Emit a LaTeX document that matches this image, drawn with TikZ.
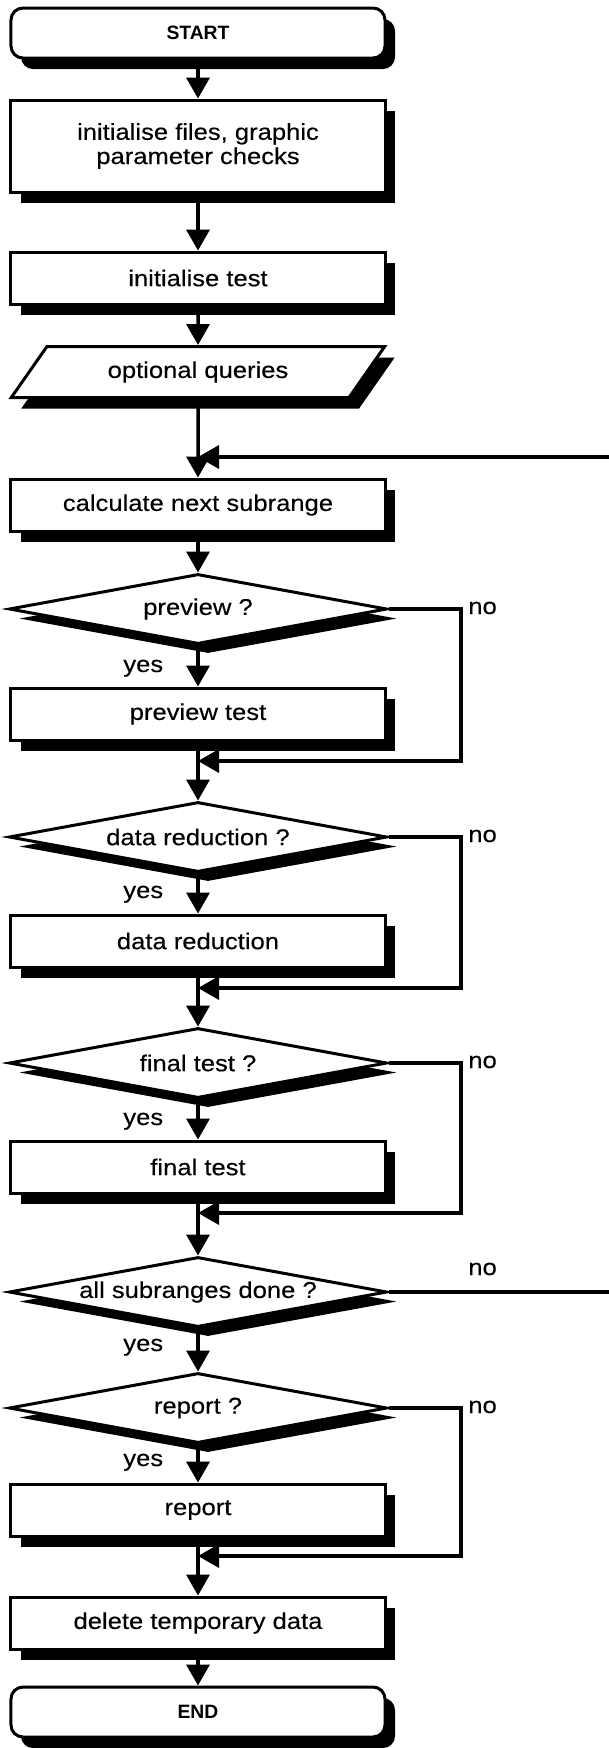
\documentclass[tikz,border=0pt]{standalone}
\usepackage{fontspec}
\setmainfont{Liberation Sans}[FakeStretch=1.12, FakeBold=0.3]
\newfontfamily\termfont{Liberation Sans}
\usetikzlibrary{shapes.geometric,shadows,arrows.meta}

\begin{document}
\begin{tikzpicture}[
    x=0.2mm, y=-0.2mm,
    blackshadow/.style={drop shadow={shadow xshift=2mm, shadow yshift=-2.2mm, fill=black, opacity=1}},
    procbox/.style={draw, line width=0.6mm, fill=white, blackshadow, minimum width=74.8mm, minimum height=10.4mm, inner sep=0pt, align=center, font=\fontsize{13}{13.8}\selectfont},
    termbox/.style={procbox, rounded corners=2.4mm, minimum height=10mm, font=\termfont\bfseries\fontsize{11}{13}\selectfont},
    iobox/.style={procbox, trapezium, trapezium left angle=45, trapezium right angle=135, trapezium stretches=true, minimum width=74.8mm, minimum height=10.2mm},
    decision/.style={diamond, draw, line width=0.6mm, fill=white, aspect=5.4, minimum width=75.6mm, minimum height=14mm, inner sep=0pt,
        drop shadow={shadow xshift=2mm, shadow yshift=-1.9mm, fill=black, opacity=1}, font=\fontsize{13}{13.8}\selectfont},
    flow/.style={line width=0.7mm, -{Triangle[length=4.2mm, width=4.6mm]}},
    plain/.style={line width=0.7mm},
    lbl/.style={inner sep=0pt, anchor=base west, font=\fontsize{13}{13.8}\selectfont}
]
\useasboundingbox (0,0) rectangle (609,1748);

\node[termbox] (start) at (198,33) {START};
\node[procbox, minimum height=18.4mm] (initfiles) at (198,146) {initialise files, graphic\\ parameter checks};
\node[procbox] (inittest) at (198,278) {initialise test};
\node[iobox] (query) at (198,372) {optional queries};
\node[procbox] (calc) at (198,505) {calculate next subrange};
\node[decision] (qprev) at (198,609) {preview ?};
\node[procbox] (prev) at (198,714) {preview test};
\node[decision] (qred) at (198,837) {data reduction ?};
\node[procbox] (red) at (198,941) {data reduction};
\node[decision] (qfin) at (198,1063) {final test ?};
\node[procbox] (fin) at (198,1167) {final test};
\node[decision] (qall) at (198,1292) {all subranges done ?};
\node[decision] (qrep) at (198,1408) {report ?};
\node[procbox] (rep) at (198,1510) {report};
\node[procbox] (del) at (198,1623) {delete temporary data};
\node[termbox] (end) at (198,1712) {END};

\coordinate (noline) at (461,0);
\coordinate (loopin) at (609,457);
\coordinate (loopout) at (609,1292);
\coordinate (m1) at (198,761);
\coordinate (m2) at (198,988);
\coordinate (m3) at (198,1213);
\coordinate (m4) at (198,1556);

\draw[flow] (start) -- (initfiles);
\draw[flow] (initfiles) -- (inittest);
\draw[flow] (inittest) -- (query);
\draw[flow] (query) -- (calc);
\draw[flow] (loopin) -- (calc.north |- loopin);
\draw[flow] (calc) -- (qprev);
\draw[flow] (qprev) -- (prev);
\draw[flow] (prev) -- (qred);
\draw[flow] (qprev.east) -- (qprev.east -| noline) |- (m1);
\draw[flow] (qred) -- (red);
\draw[flow] (red) -- (qfin);
\draw[flow] (qred.east) -- (qred.east -| noline) |- (m2);
\draw[flow] (qfin) -- (fin);
\draw[flow] (fin) -- (qall);
\draw[flow] (qfin.east) -- (qfin.east -| noline) |- (m3);
\draw[plain] (qall.east) -- (loopout);
\draw[flow] (qall) -- (qrep);
\draw[flow] (qrep) -- (rep);
\draw[flow] (rep) -- (del);
\draw[flow] (qrep.east) -- (qrep.east -| noline) |- (m4);
\draw[flow] (del) -- (end);

\node[lbl] (no1) at (468,614) {no};
\node[lbl] (no2) at (468,842) {no};
\node[lbl] (no3) at (468,1068) {no};
\node[lbl] (no4) at (468,1275) {no};
\node[lbl] (no5) at (468,1413) {no};
\node[lbl] (yes1) at (123,672) {yes};
\node[lbl] (yes2) at (123,898) {yes};
\node[lbl] (yes3) at (123,1125) {yes};
\node[lbl] (yes4) at (123,1351) {yes};
\node[lbl] (yes5) at (123,1466) {yes};
\end{tikzpicture}
\end{document}
